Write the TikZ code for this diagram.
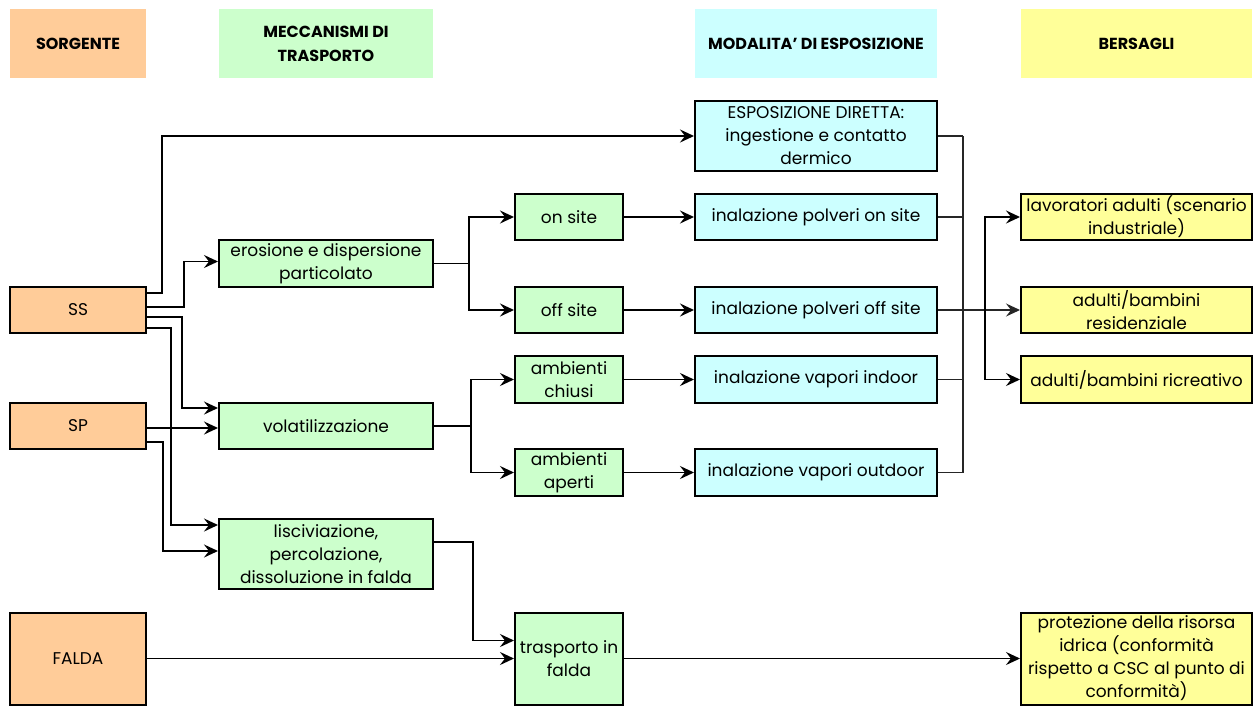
\documentclass[tikz,border=0pt]{standalone}
\usepackage{fontspec}
\setmainfont{Poppins}
\usepackage{tikz}
\usepackage{xcolor}
\usetikzlibrary{arrows.meta,positioning}
\definecolor{source}{HTML}{FFCC99}
\definecolor{mech}{HTML}{CCFFCC}
\definecolor{expo}{HTML}{CCFFFF}
\definecolor{target}{HTML}{FFFF99}
\tikzstyle{arrow} = [
    line width=1.9pt,
    -{Stealth[length=14pt,width=13pt,inset=5pt]},
    draw=black
]
\tikzstyle{bus} = [
    line width=1.2pt,
    draw=black!85
]
\tikzstyle{box} = [
    rectangle,
    draw=black,
    line width=2pt,
    align=center,
    inner sep=0pt,
    minimum height=46pt,
    font=\fontsize{17}{23}\selectfont
]
\tikzstyle{head} = [
    rectangle,
    align=center,
    minimum height=69pt,
    font=\fontsize{16}{24}\selectfont\bfseries
]
\tikzstyle{srcbox} = [box, fill=source, minimum width=136pt]
\tikzstyle{mechbox} = [box, fill=mech, minimum width=214pt]
\tikzstyle{pathbox} = [box, fill=mech, minimum width=108pt]
\tikzstyle{expobox} = [box, fill=expo, minimum width=242pt]
\tikzstyle{targetbox} = [box, fill=target, minimum width=231pt]

\begin{document}
\begin{tikzpicture}[x=1pt,y=-1pt]
        \useasboundingbox (0,0) rectangle (1260,705);

        % Column headers
        \node[head, fill=source, minimum width=136pt] (hsorg) at (78,43.5) {SORGENTE};
        \node[head, fill=mech, minimum width=214pt] (hmecc) at (326,43.5) {MECCANISMI DI\\TRASPORTO};
        \node[head, fill=expo, minimum width=242pt] (hmoda) at (816,43.5) {MODALITA' DI ESPOSIZIONE};
        \node[head, fill=target, minimum width=231pt] (hbers) at (1136.5,43.5) {BERSAGLI};

        % Sources
        \node[srcbox] (ss) at (78,310) {SS};
        \node[srcbox] (sp) at (78,426) {SP};
        \node[srcbox, minimum height=92pt] (falda) at (78,658.5) {FALDA};

        % Transport mechanisms
        \node[mechbox, minimum height=47pt] (eros) at (326,263.5) {erosione e dispersione\\particolato};
        \node[mechbox] (volat) at (326,426) {volatilizzazione};
        \node[mechbox, minimum height=70pt] (lisc) at (326,554) {lisciviazione,\\percolazione,\\dissoluzione in falda};

        \node[pathbox] (onsite) at (569,217) {on site};
        \node[pathbox] (offsite) at (569,310) {off site};
        \node[pathbox, minimum height=47pt] (chiusi) at (569,379.5) {ambienti\\chiusi};
        \node[pathbox, minimum height=47pt] (aperti) at (569,472.5) {ambienti\\aperti};
        \node[pathbox, minimum height=92pt] (trasp) at (569,658.5) {trasporto in\\falda};

        % Exposure
        \node[expobox, minimum height=70pt] (dir) at (816,136) {ESPOSIZIONE DIRETTA:\\ingestione e contatto\\dermico};
        \node[expobox] (polvon) at (816,217) {inalazione polveri on site};
        \node[expobox] (polvoff) at (816,310) {inalazione polveri off site};
        \node[expobox, minimum height=47pt] (vapin) at (816,379.5) {inalazione vapori indoor};
        \node[expobox, minimum height=47pt] (vapout) at (816,472.5) {inalazione vapori outdoor};

        % Targets
        \node[targetbox] (lav) at (1136.5,217) {lavoratori adulti (scenario\\industriale)};
        \node[targetbox] (res) at (1136.5,310) {adulti/bambini\\residenziale};
        \node[targetbox, minimum height=47pt] (ricr) at (1136.5,379.5) {adulti/bambini ricreativo};
        \node[targetbox, minimum height=92pt] (idr) at (1136.5,658.5) {protezione della risorsa\\idrica (conformità\\rispetto a CSC al punto di\\conformità)};

        % Source links
        \draw[arrow] ([yshift=17pt]ss.east) -- ++(15,0) |- (dir.west);
        \draw[arrow] ([yshift=3pt]ss.east) -- ++(37,0) |- ([yshift=2pt]eros.west);
        \draw[arrow] ([yshift=-7pt]ss.east) -- ++(35,0) |- ([yshift=18pt]volat.west);
        \draw[arrow] ([yshift=-18pt]ss.east) -- ++(24,0) |- ([yshift=29pt]lisc.west);
        \draw[arrow] ([yshift=-2pt]sp.east) -- ([yshift=-2pt]volat.west);
        \draw[arrow] ([yshift=-16pt]sp.east) -- ++(16,0) |- ([yshift=3pt]lisc.west);
        \draw[arrow] (falda.east) -- (trasp.west);

        % Mechanism branches
        \draw[arrow] (eros.east) -- ++(35,0) |- (onsite.west);
        \draw[arrow] (eros.east) -- ++(35,0) |- (offsite.west);
        \draw[arrow] (volat.east) -- ++(37,0) |- (chiusi.west);
        \draw[arrow] (volat.east) -- ++(37,0) |- (aperti.west);
        \draw[arrow] ([yshift=12pt]lisc.east) -- ++(39,0) |- ([yshift=18pt]trasp.west);

        \draw[arrow] (onsite) -- (polvon);
        \draw[arrow] (offsite) -- (polvoff);
        \draw[arrow] (chiusi) -- (vapin);
        \draw[arrow] (aperti) -- (vapout);
        \draw[arrow] (trasp) -- (idr);

        % Exposure collector
        \draw[bus] (dir.east) -- ++(25,0) coordinate (btop);
        \draw[bus] (vapout.east) -- ++(25,0) -- (btop);
        \draw[bus] (polvon.east) -- ++(25,0);
        \draw[bus] (vapin.east) -- ++(25,0);
        \draw[bus, -{Stealth[length=14pt,width=13pt,inset=5pt]}] (polvoff.east) -- (res.west);
        \coordinate (split) at (985,310);
        \draw[arrow] (split) |- (lav.west);
        \draw[arrow] (split) |- (ricr.west);
    \end{tikzpicture}
\end{document}
